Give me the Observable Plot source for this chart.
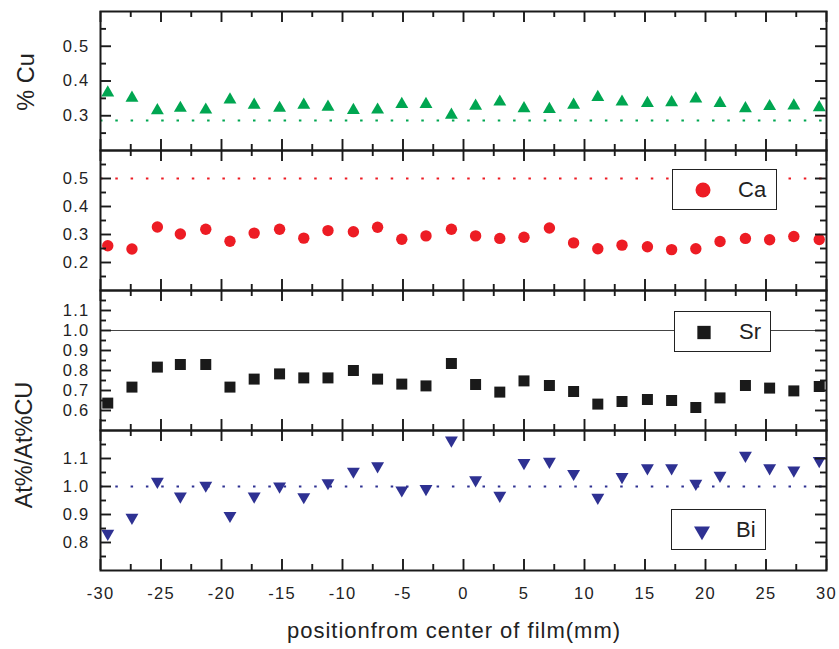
<!DOCTYPE html>
<html>
<head>
<meta charset="utf-8">
<script src="https://cdn.jsdelivr.net/npm/d3@7"></script>
<script src="https://cdn.jsdelivr.net/npm/@observablehq/plot@0.6"></script>
<style>
  html, body { margin: 0; padding: 0; background: #fff; }
  #chart { position: relative; width: 839px; height: 649px; font-family: "Liberation Sans", Arial, sans-serif; color: #222; overflow: hidden; }
  #chart svg.panel { position: absolute; left: 0; overflow: visible; }
  .title { position: absolute; white-space: nowrap; line-height: 1; transform: translate(-50%, -50%); }
  .title.rot { transform: translate(-50%, -50%) rotate(-90deg); }
  .legend { position: absolute; box-sizing: border-box; border: 1.3px solid #222; background: #fff; }
  .legend svg { position: absolute; left: 0; top: 0; overflow: visible; }
  .legend span { position: absolute; top: 0; font-size: 22px; white-space: nowrap; }
</style>
</head>
<body>
<div id="chart"></div>
<script>
// ---------- data ----------
const positions = [-29.4, -27.4, -25.3, -23.4, -21.3, -19.3, -17.3, -15.2, -13.2, -11.2,
                   -9.1, -7.1, -5.1, -3.1, -1.0, 1.0, 3.0, 5.0, 7.1, 9.1,
                   11.1, 13.1, 15.2, 17.2, 19.2, 21.2, 23.3, 25.3, 27.3, 29.4];
const cuValues = [0.366, 0.351, 0.315, 0.322, 0.317, 0.346, 0.331, 0.322, 0.331, 0.325,
                  0.316, 0.317, 0.333, 0.333, 0.302, 0.328, 0.340, 0.321, 0.319, 0.331,
                  0.353, 0.340, 0.336, 0.338, 0.349, 0.336, 0.321, 0.327, 0.329, 0.324];
const caValues = [0.260, 0.248, 0.327, 0.302, 0.319, 0.276, 0.305, 0.319, 0.287, 0.314,
                  0.310, 0.326, 0.283, 0.295, 0.319, 0.295, 0.286, 0.290, 0.323, 0.270,
                  0.249, 0.262, 0.256, 0.246, 0.249, 0.275, 0.286, 0.281, 0.293, 0.282];
const srValues = [0.637, 0.717, 0.817, 0.830, 0.830, 0.717, 0.757, 0.783, 0.763, 0.763,
                  0.800, 0.757, 0.732, 0.723, 0.835, 0.730, 0.692, 0.748, 0.725, 0.695,
                  0.632, 0.645, 0.655, 0.650, 0.615, 0.663, 0.725, 0.712, 0.698, 0.720];
const biValues = [0.832, 0.889, 1.018, 0.965, 1.004, 0.896, 0.965, 1.001, 0.963, 1.013,
                  1.054, 1.073, 0.987, 0.992, 1.165, 1.023, 0.968, 1.085, 1.089, 1.046,
                  0.961, 1.035, 1.066, 1.066, 1.011, 1.039, 1.111, 1.066, 1.058, 1.092];

const seriesNames = ["Cu", "Ca", "Sr", "Bi"];
const referenceValues = [0.286, 0.5, 1.0, 1.0];

const xMajorTicks = [-30, -25, -20, -15, -10, -5, 0, 5, 10, 15, 20, 25, 30];
const xMinorTicks = [-27.5, -22.5, -17.5, -12.5, -7.5, -2.5, 2.5, 7.5, 12.5, 17.5, 22.5, 27.5];
const cuTicks = [0.3, 0.4, 0.5];
const cuMinor = [0.25, 0.35, 0.45, 0.55];
const caTicks = [0.2, 0.3, 0.4, 0.5];
const caMinor = [0.15, 0.25, 0.35, 0.45, 0.55];
const srTicks = [0.6, 0.7, 0.8, 0.9, 1.0, 1.1];
const srMinor = [0.55, 0.65, 0.75, 0.85, 0.95, 1.05, 1.15];
const biTicks = [0.8, 0.9, 1.0, 1.1];
const biMinor = [0.75, 0.85, 0.95, 1.05, 1.15];

const xLabel = "positionfrom center of film(mm)";
const yLabelTop = "% Cu";
const yLabelBottom = "At%/At%CU";

// ---------- layout / style ----------
const W = 839, ML = 100, MR = 13;
const FW = W - ML - MR;
const ink = "#1a1a1a";
const tickStyle = { stroke: ink, strokeWidth: 1.9 };

const triangleDown = {
  draw(context, size) {
    const y = Math.sqrt(size / (Math.sqrt(3) * 3));
    context.moveTo(0, 2 * y);
    context.lineTo(-Math.sqrt(3) * y, -y);
    context.lineTo(Math.sqrt(3) * y, -y);
    context.closePath();
  }
};

const chart = document.getElementById("chart");

function panel(cfg) {
  const fh = cfg.height - cfg.marginTop - cfg.marginBottom;
  const data = positions.map((x, i) => ({ x, v: cfg.values[i] }));
  const marks = [
    Plot.ruleY([cfg.ref], { stroke: cfg.refColor, strokeWidth: cfg.refWidth, strokeDasharray: cfg.refDash }),
    Plot.dot(data, { x: "x", y: "v", symbol: cfg.symbol, r: cfg.r, fill: cfg.color, stroke: "none" }),
    Plot.tickX(xMajorTicks, { x: d => d, insetBottom: fh - 11, ...tickStyle }),
    Plot.tickX(xMajorTicks, { x: d => d, insetTop: fh - 11, ...tickStyle }),
    Plot.tickX(xMinorTicks, { x: d => d, insetBottom: fh - 6, ...tickStyle }),
    Plot.tickX(xMinorTicks, { x: d => d, insetTop: fh - 6, ...tickStyle }),
    Plot.tickY(cfg.major, { y: d => d, insetRight: FW - 11, ...tickStyle }),
    Plot.tickY(cfg.major, { y: d => d, insetLeft: FW - 11, ...tickStyle }),
    Plot.tickY(cfg.minor, { y: d => d, insetRight: FW - 6, ...tickStyle }),
    Plot.tickY(cfg.minor, { y: d => d, insetLeft: FW - 6, ...tickStyle }),
    Plot.axisY({ anchor: "left", ticks: cfg.major, tickSize: 0, tickPadding: 11,
                 tickFormat: d3.format(".1f"), label: null, fontSize: 16.5, fill: "#222" }),
    Plot.frame({ stroke: ink, strokeWidth: 2 })
  ];
  if (cfg.xAxis) {
    marks.push(Plot.axisX({ anchor: "bottom", ticks: xMajorTicks, tickSize: 0, tickPadding: 17,
                            tickFormat: d => String(d), label: null, fontSize: 16.5, fill: "#222" }));
  }
  const svg = Plot.plot({
    width: W, height: cfg.height,
    marginLeft: ML, marginRight: MR, marginTop: cfg.marginTop, marginBottom: cfg.marginBottom,
    x: { domain: [-30, 30], ...(cfg.xAxis ? {} : { axis: null }) },
    y: { domain: cfg.domain },
    style: { background: "transparent", fontFamily: "'Liberation Sans', Arial, sans-serif",
             letterSpacing: "1.3px", overflow: "visible" },
    marks
  });
  svg.classList.add("panel");
  svg.style.top = cfg.top + "px";
  chart.appendChild(svg);
}

const green = "#00a651", red = "#ed1c24", black = "#1a1a1a", navy = "#2e3192";

panel({ top: 0, height: 150, marginTop: 11, marginBottom: 0, domain: [0.2, 0.6],
        values: cuValues, major: cuTicks, minor: cuMinor, ref: referenceValues[0],
        refColor: green, refWidth: 2, refDash: "2.5,12.8", symbol: "triangle", r: 4.8, color: green });
panel({ top: 150, height: 140, marginTop: 0, marginBottom: 0, domain: [0.1, 0.6],
        values: caValues, major: caTicks, minor: caMinor, ref: referenceValues[1],
        refColor: red, refWidth: 2, refDash: "2.5,12.8", symbol: "circle", r: 5.7, color: red });
panel({ top: 290, height: 140, marginTop: 0, marginBottom: 0, domain: [0.5, 1.2],
        values: srValues, major: srTicks, minor: srMinor, ref: referenceValues[2],
        refColor: "#444", refWidth: 1, refDash: null, symbol: "square", r: 6.2, color: black });
panel({ top: 430, height: 219, marginTop: 0, marginBottom: 79, domain: [0.7, 1.2],
        values: biValues, major: biTicks, minor: biMinor, ref: referenceValues[3],
        refColor: navy, refWidth: 2, refDash: "2.5,12.8", symbol: triangleDown, r: 4.8, color: navy, xAxis: true });

// ---------- legends ----------
function legend(name, box, marker, textLeft, symbol, size, color) {
  const div = document.createElement("div");
  div.className = "legend";
  Object.assign(div.style, { left: box[0] + "px", top: box[1] + "px", width: box[2] + "px", height: box[3] + "px" });
  const ns = "http://www.w3.org/2000/svg";
  const s = document.createElementNS(ns, "svg");
  s.setAttribute("width", box[2]); s.setAttribute("height", box[3]);
  const p = document.createElementNS(ns, "path");
  p.setAttribute("d", d3.symbol(symbol, size)());
  p.setAttribute("fill", color);
  p.setAttribute("transform", `translate(${marker[0]},${marker[1]})`);
  s.appendChild(p);
  div.appendChild(s);
  const t = document.createElement("span");
  t.textContent = name;
  t.style.left = textLeft + "px";
  t.style.lineHeight = (box[3] - 2) + "px";
  div.appendChild(t);
  chart.appendChild(div);
}
legend(seriesNames[1], [672, 169, 105, 41], [30, 20], 65, d3.symbolCircle, 177, red);
legend(seriesNames[2], [674, 311, 97, 41], [29, 20.5], 64, d3.symbolSquare, 177, black);
legend(seriesNames[3], [671, 509, 95, 41], [30, 21], 64, triangleDown, 111, navy);

// ---------- titles ----------
function title(text, x, y, size, rot, spacing) {
  const d = document.createElement("div");
  d.className = "title" + (rot ? " rot" : "");
  d.textContent = text;
  Object.assign(d.style, { left: x + "px", top: y + "px", fontSize: size + "px", letterSpacing: spacing + "px" });
  chart.appendChild(d);
}
title(yLabelTop, 27, 82, 23.5, true, 0);
title(yLabelBottom, 25, 445, 23.5, true, 0);
title(xLabel, 454, 630.5, 22, false, 1);
</script>
</body>
</html>
